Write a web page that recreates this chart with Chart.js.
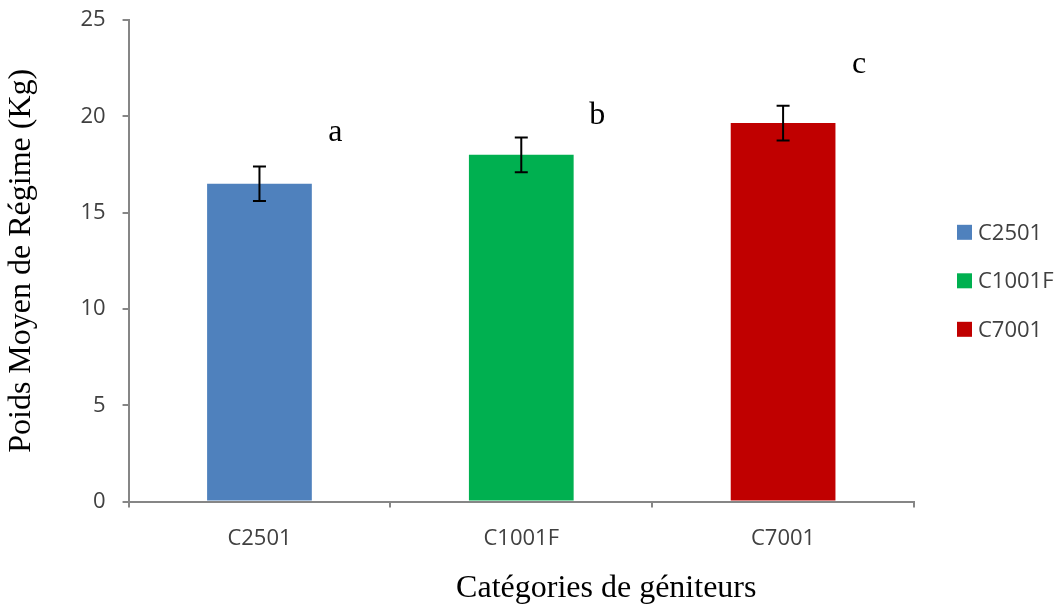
<!DOCTYPE html>
<html><head><meta charset="utf-8">
<script src="https://cdn.jsdelivr.net/npm/chart.js@4"></script>
<style>html,body{margin:0;padding:0;background:#fff}</style>
</head><body>
<canvas id="c" width="1064" height="607"></canvas>
<script>
const categories = ['C2501', 'C1001F', 'C7001'];
const means = [16.5, 18.0, 19.65];
const errors = [0.9, 0.9, 0.9];
const letters = ['a', 'b', 'c'];
const letterValues = [19.15, 20.05, 22.7];
const colors = ['#4F81BD', '#00B050', '#C00000'];
const yTicks = [0, 5, 10, 15, 20, 25];
const xTitle = 'Catégories de géniteurs';
const yTitle = 'Poids Moyen de Régime (Kg)';

const axisGray = '#868686';
const textColor = '#404040';
const tickFont = { family: '"Open Sans"', size: 22 };

const overlay = {
  id: 'overlay',
  afterDatasetsDraw(chart) {
    const ctx = chart.ctx;
    const xs = chart.scales.x, ys = chart.scales.y;
    const ca = chart.chartArea;
    const catW = xs.width / categories.length;
    ctx.save();
    // error bars
    ctx.strokeStyle = '#000';
    ctx.lineWidth = 2;
    for (let i = 0; i < categories.length; i++) {
      const x = xs.getPixelForValue(i);
      const yt = ys.getPixelForValue(means[i] + errors[i]);
      const yb = ys.getPixelForValue(means[i] - errors[i]);
      ctx.beginPath();
      ctx.moveTo(x, yt); ctx.lineTo(x, yb);
      ctx.moveTo(x - 6.5, yt); ctx.lineTo(x + 6.5, yt);
      ctx.moveTo(x - 6.5, yb); ctx.lineTo(x + 6.5, yb);
      ctx.stroke();
    }
    // significance letters
    ctx.fillStyle = '#000';
    ctx.font = '32px "Liberation Serif"';
    ctx.textAlign = 'center';
    ctx.textBaseline = 'middle';
    for (let i = 0; i < categories.length; i++) {
      const x = xs.getPixelForValue(i) + catW * 0.29;
      ctx.fillText(letters[i], x, ys.getPixelForValue(letterValues[i]));
    }
    // x axis title
    ctx.textBaseline = 'alphabetic';
    ctx.fillText(xTitle, (ca.left + ca.right) / 2 + 85, 597);
    // legend
    ctx.font = '22px "Open Sans"';
    ctx.textAlign = 'left';
    ctx.textBaseline = 'middle';
    const legendX = ca.right + 43;
    const legendY0 = (ca.top + ca.bottom) / 2 - 48.5 + 20;
    for (let i = 0; i < categories.length; i++) {
      const cy = legendY0 + i * 48.5;
      ctx.fillStyle = colors[i];
      ctx.fillRect(legendX, cy - 7.5, 15, 15);
      ctx.fillStyle = textColor;
      ctx.fillText(categories[i], legendX + 21, cy + 1);
    }
    ctx.restore();
  }
};

new Chart(document.getElementById('c'), {
  type: 'bar',
  data: {
    labels: categories,
    datasets: [{
      data: means,
      backgroundColor: colors,
      borderWidth: 0,
      categoryPercentage: 1.0,
      barPercentage: 0.4
    }]
  },
  options: {
    responsive: false,
    animation: false,
    devicePixelRatio: 1,
    layout: { padding: { top: 20, bottom: 37, left: 0, right: 150 } },
    plugins: {
      tooltip: { enabled: false },
      legend: { display: false }
    },
    scales: {
      x: {
        offset: true,
        grid: { offset: true, drawOnChartArea: false, drawTicks: true, tickLength: 6, color: axisGray, lineWidth: 2 },
        border: { color: axisGray, width: 2 },
        ticks: { color: textColor, font: tickFont, padding: 18 }
      },
      y: {
        min: 0, max: 25,
        afterBuildTicks(scale) { scale.ticks = yTicks.map(v => ({ value: v })); },
        afterFit(scale) { scale.paddingTop = 0; scale.paddingBottom = 0; },
        grid: { drawOnChartArea: false, drawTicks: true, tickLength: 6, color: axisGray, lineWidth: 2 },
        border: { color: axisGray, width: 2 },
        ticks: { color: textColor, font: tickFont, padding: 17 },
        title: {
          display: true, text: yTitle, color: '#000',
          font: { family: '"Liberation Serif"', size: 32 },
          padding: { top: 2, bottom: 23 }
        }
      }
    }
  },
  plugins: [overlay]
});
</script>
</body></html>
